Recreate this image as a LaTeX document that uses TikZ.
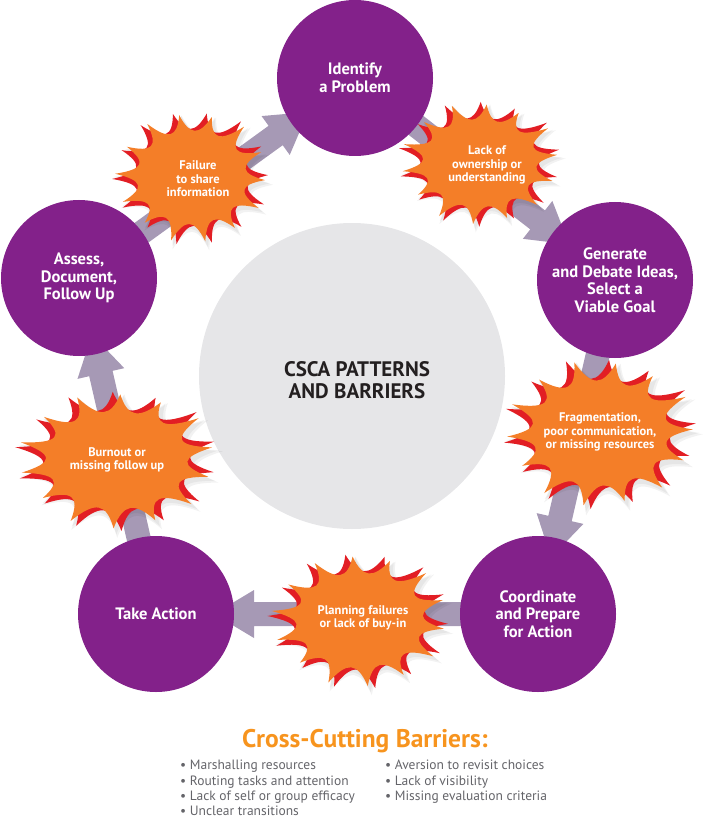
\documentclass[tikz,border=0pt]{standalone}
\usepackage{fontspec}
\setmainfont{PT Sans}
\usetikzlibrary{calc}
\definecolor{cpurple}{RGB}{131,33,138}
\definecolor{corange}{RGB}{244,126,40}
\definecolor{cred}{RGB}{226,30,36}
\definecolor{carrow}{RGB}{166,153,181}
\definecolor{chub}{RGB}{230,230,232}
\definecolor{ctitle}{RGB}{247,148,30}
\definecolor{cbullet}{RGB}{100,100,105}
\definecolor{ctext}{RGB}{35,31,32}
\pgfdeclarelayer{bg}
\pgfdeclarelayer{mid}
\pgfsetlayers{bg,mid,main}
\tikzset{
  stage/.style={circle, fill=cpurple, minimum size=156pt, inner sep=0pt, text=white,
    font=\bfseries\fontsize{16.5}{17.5}\selectfont, align=center},
  burstlabel/.style={text=white, font=\bfseries\fontsize{12.5}{13.6}\selectfont, align=center, inner sep=0pt},
  flow/.style={fill=carrow},
  bullet/.style={anchor=base west, inner sep=0pt, text=cbullet, font=\fontsize{13.5}{15}\selectfont},
}
\newcommand\burstpath[2]{({#2}:{#1*1.02})
  \foreach \k in {0,...,13} {
    .. controls ({#2+(\k+0.3)*25.7143}:{#1*0.65}) and ({#2+(\k+0.7)*25.7143}:{#1*0.65})
    .. ({#2+(\k+1)*25.7143}:{#1*(1+0.03*sin((\k+1)*128.5714)+0.02*cos((\k+1)*77.1429))})
  } -- cycle}
\newcommand\burst[5]{%
  \begin{scope}[shift={(#1,#2)}, xscale=#3, yscale=#4]
    \fill[black, opacity=0.05, shift={(0.04,0.07)}] \burstpath{1.07}{#5};
    \fill[black, opacity=0.05, shift={(0.03,0.05)}] \burstpath{1.04}{#5};
    \fill[cred] \burstpath{1.04}{#5-4.5};
    \fill[corange] \burstpath{1}{#5};
  \end{scope}}
\newcommand\flowarrow[2]{%
  \coordinate (#1-#2-b) at ($(#2)!98pt!(#1)$);
  \coordinate (#1-#2-t) at ($(#2)!58pt!(#1)$);
  \fill[flow] ($(#1)!12pt!90:(#2)$) -- ($(#1-#2-b)!12pt!90:(#2)$) -- ($(#1-#2-b)!24pt!90:(#2)$)
    -- (#1-#2-t) -- ($(#1-#2-b)!24pt!-90:(#2)$) -- ($(#1-#2-b)!12pt!-90:(#2)$)
    -- ($(#1)!12pt!-90:(#2)$) -- cycle;}
\begin{document}
\begin{tikzpicture}[x=1pt,y=-1pt]
\useasboundingbox (0,0) rectangle (707,818);
% stages
\node[stage] (identify) at (355,78) {Identify\\a Problem};
\node[stage] (generate) at (615,280) {Generate\\and Debate Ideas,\\Select a\\Viable Goal};
\node[stage] (coordinate) at (538,614) {Coordinate\\and Prepare\\for Action};
\node[stage] (take) at (156,614) {Take Action};
\node[stage] (assess) at (79,278) {Assess,\\Document,\\Follow Up};
% hub
\begin{pgfonlayer}{bg}
  \node[circle, fill=chub, minimum size=306pt, inner sep=0pt] (hub) at (352,376) {};
  \flowarrow{assess}{identify}
  \flowarrow{identify}{generate}
  \flowarrow{generate}{coordinate}
  \flowarrow{coordinate}{take}
  \flowarrow{take}{assess}
\end{pgfonlayer}
\node[text=ctext, font=\bfseries\fontsize{21}{21.5}\selectfont, align=center] (hubtext) at (357,380) {CSCA PATTERNS\\AND BARRIERS};
% bursts
\begin{pgfonlayer}{mid}
  \burst{192}{177}{75}{64}{80}
  \burst{480}{163}{78}{60}{95}
  \burst{600}{433}{93}{72}{100}
  \burst{360}{620}{87}{65}{85}
  \burst{117}{460}{97}{67}{92}
\end{pgfonlayer}
\node[burstlabel] (b1) at (198,179) {Failure\\to share\\information};
\node[burstlabel] (b2) at (487,165) {Lack of\\ownership or\\understanding};
\node[burstlabel] (b3) at (600,432) {Fragmentation,\\poor communication,\\or missing resources};
\node[burstlabel] (b4) at (363,618) {Planning failures\\or lack of buy-in};
\node[burstlabel] (b5) at (117,460) {Burnout or\\missing follow up};
% cross-cutting barriers
\node[text=ctitle, font=\bfseries\fontsize{25.5}{27}\selectfont] (title) at (365,741) {Cross-Cutting Barriers:};
\node[bullet] (l1) at (180,769.5) {• Marshalling resources};
\node[bullet] (l2) at (180,785) {• Routing tasks and attention};
\node[bullet] (l3) at (180,800.5) {• Lack of self or group efficacy};
\node[bullet] (l4) at (180,815.5) {• Unclear transitions};
\node[bullet] (r1) at (385,769.5) {• Aversion to revisit choices};
\node[bullet] (r2) at (385,785) {• Lack of visibility};
\node[bullet] (r3) at (385,800.5) {• Missing evaluation criteria};
\end{tikzpicture}
\end{document}
